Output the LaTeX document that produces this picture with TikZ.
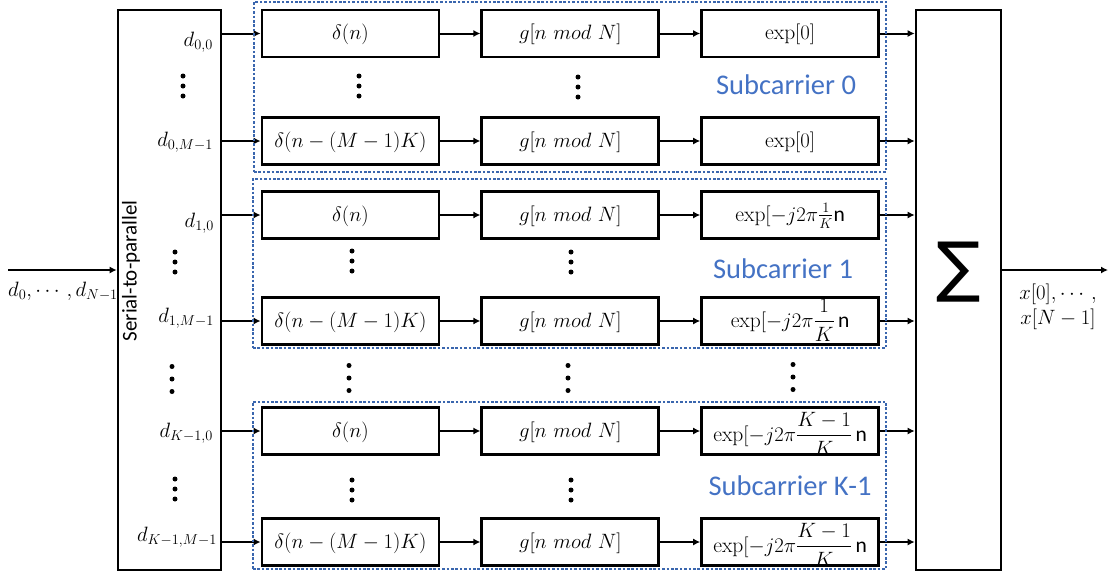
\documentclass[tikz,border=0pt]{standalone}
\usepackage{amsmath}
\usepackage{fontspec}
\setsansfont{Carlito}
\newfontfamily\sigmafont{DejaVu Sans}
\usetikzlibrary{arrows.meta,positioning,fit}
\definecolor{frameblue}{HTML}{3A66AE}
\definecolor{labelblue}{HTML}{4472C4}
\tikzset{
    box/.style={
        draw,
        line width=2.8pt,
        minimum width=177pt,
        minimum height=47pt,
        inner sep=0pt,
        text height=16pt,
        text depth=4pt,
        font=\fontsize{21.5}{25}\selectfont
    },
    fracbox/.style={box, text height=20pt, text depth=0pt},
    tallbox/.style={
        draw,
        line width=2.6pt,
        minimum height=560pt,
        inner sep=0pt
    },
    flow/.style={-{Latex[length=7pt,width=7pt]}, line width=2pt},
    subframe/.style={
        draw=frameblue,
        line width=2.6pt,
        dash pattern=on 2.6pt off 1.8pt,
        inner sep=0pt
    },
    sublabel/.style={text=labelblue, font=\sffamily\fontsize{28.5}{32}\selectfont},
    dlabel/.style={anchor=east, inner sep=0pt, font=\fontsize{21.5}{25}\selectfont}
}
\newcommand{\sfn}{\textsf{n}}
% three dots: x, y, spacing
\newcommand{\vdotsat}[3]{%
    \fill (#1,#2-#3) circle (2.5pt) (#1,#2) circle (2.5pt) (#1,#2+#3) circle (2.5pt);}

\begin{document}
\begin{tikzpicture}[x=1pt, y=-1pt, node distance=40pt]
    \useasboundingbox (0,0) rectangle (1110,571);

    \node[tallbox, minimum width=103pt] (s2p) at (169.5,290) {};
    \node[tallbox, minimum width=85pt] (sum) at (958.5,290) {};
    \node[rotate=90, font=\sffamily\fontsize{21}{24}\selectfont] (s2ptext) at (131,271) {Serial-to-parallel};
    \node[font=\sigmafont\fontsize{66}{70}\selectfont] (sigma) at (958.5,272) {∑};

    % subcarrier 0
    \node[box] (b00) at (350.5,33.5) {$\delta(n)$};
    \node[box, right=of b00] (b01) {$g[n\ mod\ N]$};
    \node[box, right=of b01] (b02) {$\exp[0]$};
    \node[box] (b10) at (350.5,141) {$\delta(n-(M-1)K)$};
    \node[box, right=of b10] (b11) {$g[n\ mod\ N]$};
    \node[box, right=of b11] (b12) {$\exp[0]$};

    % subcarrier 1
    \node[box] (b20) at (350.5,215) {$\delta(n)$};
    \node[box, right=of b20] (b21) {$g[n\ mod\ N]$};
    \node[box, right=of b21] (b22) {$\exp[-j2\pi\tfrac{1}{K}\sfn$};
    \node[box] (b30) at (350.5,321) {$\delta(n-(M-1)K)$};
    \node[box, right=of b30] (b31) {$g[n\ mod\ N]$};
    \node[box, right=of b31] (b32) {$\exp[-j2\pi\dfrac{1}{K}\,\sfn$};

    % subcarrier K-1
    \node[box] (b40) at (350.5,431) {$\delta(n)$};
    \node[box, right=of b40] (b41) {$g[n\ mod\ N]$};
    \node[fracbox, right=of b41] (b42) {$\exp[-j2\pi\dfrac{K-1}{K}\,\sfn$};
    \node[box] (b50) at (350.5,542) {$\delta(n-(M-1)K)$};
    \node[box, right=of b50] (b51) {$g[n\ mod\ N]$};
    \node[fracbox, right=of b51] (b52) {$\exp[-j2\pi\dfrac{K-1}{K}\,\sfn$};

    \foreach \r in {0,...,5} {
        \draw[flow] (s2p.east |- b\r0) -- (b\r0);
        \draw[flow] (b\r0) -- (b\r1);
        \draw[flow] (b\r1) -- (b\r2);
        \draw[flow] (b\r2) -- (b\r2 -| sum.west);
    }

    \node[dlabel] (d00) at (213,42) {$d_{0,0}$};
    \node[dlabel] (d01) at (213,142) {$d_{0,M-1}$};
    \node[dlabel] (d10) at (214,223) {$d_{1,0}$};
    \node[dlabel] (d11) at (214,318) {$d_{1,M-1}$};
    \node[dlabel] (d20) at (213,433) {$d_{K-1,0}$};
    \node[dlabel] (d21) at (217,537) {$d_{K-1,M-1}$};

    \node[subframe, fit={(254,2) (886,172)}] (sc0) {};
    \node[subframe, fit={(253,179) (886,348)}] (sc1) {};
    \node[subframe, fit={(253,402) (886,569)}] (sc2) {};
    \node[sublabel] (sc0lab) at (786,85) {Subcarrier 0};
    \node[sublabel] (sc1lab) at (783,269) {Subcarrier 1};
    \node[sublabel] (sc2lab) at (790,486) {Subcarrier K-1};

    \vdotsat{183}{86}{10} \vdotsat{359}{86}{10} \vdotsat{578}{87}{10}
    \vdotsat{175}{262}{10} \vdotsat{352}{261}{10} \vdotsat{571}{262}{10}
    \vdotsat{172}{379}{12.5} \vdotsat{349}{378}{12.5} \vdotsat{568}{378}{12.5} \vdotsat{793}{377}{12.5}
    \vdotsat{175}{489}{10} \vdotsat{352}{490}{10} \vdotsat{571}{490}{10}

    \coordinate (in) at (8,270);
    \coordinate (out) at (1108,270);
    \draw[flow] (in) -- (in -| s2p.west);
    \draw[flow] (sum.east |- out) -- (out);
    \node[font=\fontsize{21.5}{25}\selectfont] (inlab) at (63,291) {$d_0,\cdots,d_{N-1}$};
    \node[font=\fontsize{21.5}{25}\selectfont, align=center] (outlab) at (1058,307) {$x[0],\cdots,$\\$x[N-1]$};
\end{tikzpicture}
\end{document}
